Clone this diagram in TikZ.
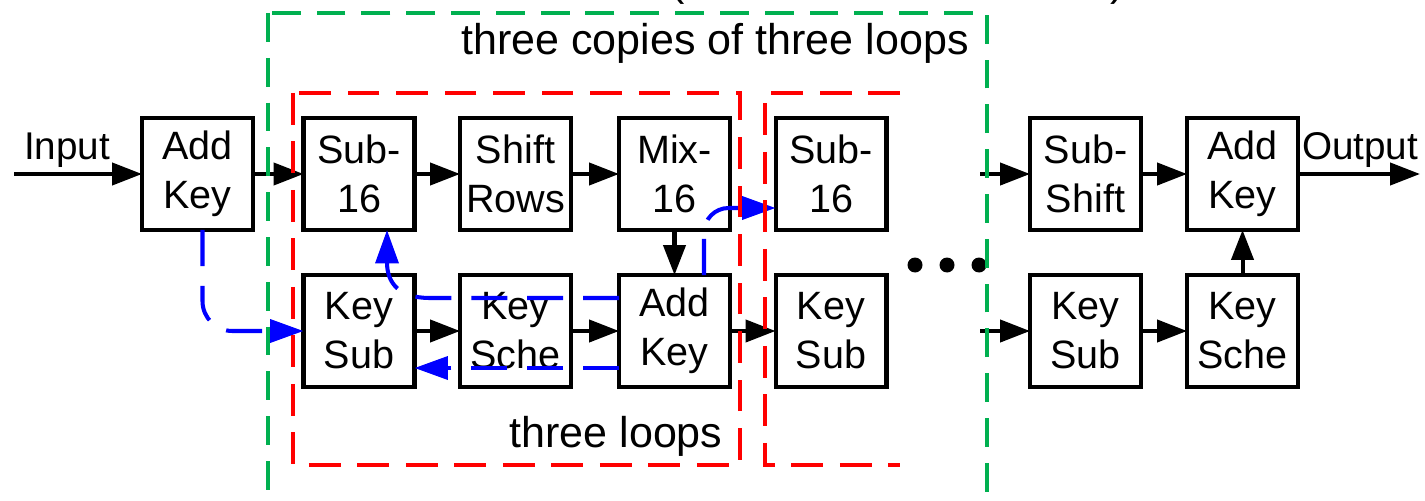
\documentclass[tikz,border=0pt]{standalone}
\usepackage{fontspec}
\setmainfont{Liberation Sans}
\usetikzlibrary{arrows.meta,calc}
\definecolor{grn}{RGB}{0,176,80}
\begin{document}
\begin{tikzpicture}[x=0.02cm,y=-0.02cm,
  blk/.style={draw,line width=2.3pt,minimum width=2.22cm,minimum height=2.24cm,
    inner sep=0pt,outer sep=0pt,align=center,font=\fontsize{22.5}{27.8}\selectfont},
  arr/.style={line width=2.3pt,-{Triangle[length=17pt,width=12.5pt]}},
  barr/.style={blue,line width=2.3pt,dash pattern=on 20.5pt off 11.3pt,
    -{Triangle[length=19pt,width=13pt]}},
  lbl/.style={font=\fontsize{24.5}{29}\selectfont,anchor=base,inner sep=0pt},
  io/.style={font=\fontsize{22}{26}\selectfont,anchor=base,inner sep=0pt},
  gbox/.style={grn,line width=2.3pt,dash pattern=on 16.4pt off 9.1pt},
  rbox/.style={red,line width=2.3pt,dash pattern=on 18pt off 9.6pt},
]
\useasboundingbox (0,0) rectangle (1425,500);

% first round key
\node[blk] (ak0) at (197.5,174) {Add\\Key};

% one loop: data path (top) and key path (bottom)
\node[blk] (s16a) at (359,174) {Sub-\\16};
\node[blk] (sr)   at (515.5,174) {Shift\\Rows};
\node[blk] (mix)  at (674.5,174) {Mix-\\16};
\node[blk] (ksub1) at (359,331) {Key\\Sub};
\node[blk] (ksch1) at (515.5,331) {Key\\Sche};
\node[blk] (ak1)   at (674.5,331) {Add\\Key};

% start of the next loop
\node[blk] (s16b)  at (831,174) {Sub-\\16};
\node[blk] (ksub2) at (831,331) {Key\\Sub};

% final round
\node[blk] (ssh)   at (1085.5,174) {Sub-\\Shift};
\node[blk] (ak2)   at (1242.5,174) {Add\\Key};
\node[blk] (ksub3) at (1085.5,331) {Key\\Sub};
\node[blk] (ksch3) at (1242.5,331) {Key\\Sche};

% labels
\node[io] (lin)  at (67,159) {Input};
\node[io] (lout) at (1360,159) {Output};
\node[lbl] (tcp) at (715,55) {three copies of three loops};
\node[lbl] (tlp) at (616,447) {three loops};
\node[lbl] (pl) at (678,-4) {(};
\node[lbl] (pr) at (1118,-4) {)};

% ellipsis
\fill (915,265) circle[radius=0.15cm];
\fill (947,265) circle[radius=0.15cm];
\fill (979,265) circle[radius=0.15cm];

% data and key flow
\coordinate (cin)  at (14,174);
\coordinate (cout) at (1420,174);
\coordinate (ct)   at (980,174);
\coordinate (cb)   at (980,331);
\draw[arr] (cin) -- (ak0);
\draw[arr] (ak0) -- (s16a);
\draw[arr] (s16a) -- (sr);
\draw[arr] (sr) -- (mix);
\draw[arr] (mix) -- (ak1);
\draw[arr] (ksub1) -- (ksch1);
\draw[arr] (ksch1) -- (ak1);
\draw[arr] (ak1) -- (ksub2);
\draw[arr] (ct) -- (ssh);
\draw[arr] (ssh) -- (ak2);
\draw[arr] (ak2.east) -- (cout);
\draw[arr] (cb) -- (ksub3);
\draw[arr] (ksub3) -- (ksch3);
\draw[arr] (ksch3) -- (ak2);

% loop control paths
\draw[barr,rounded corners=17pt] ($(ak0.south)+(5,0)$) |- (ksub1.west);
\draw[barr] ($(ak1.west)+(0,-33)$) -- (430,298)
  .. controls (398,298) and (387,282) .. ($(s16a.south)+(28,0)$);
\draw[barr] ($(ak1.west)+(0,37)$) -- ($(ksub1.east)+(0,37)$);
\draw[barr,rounded corners=14pt] ($(ak1.north)+(29.5,0)$) |- ($(s16b.west)+(0,34)$);

% grouping frames
\draw[gbox] (268,13) rectangle (987,520);
\draw[rbox] (293,93) rectangle (740,465);
\draw[rbox] (900,93) -- (765,93) -- (765,465) -- (900,465);
\end{tikzpicture}
\end{document}
